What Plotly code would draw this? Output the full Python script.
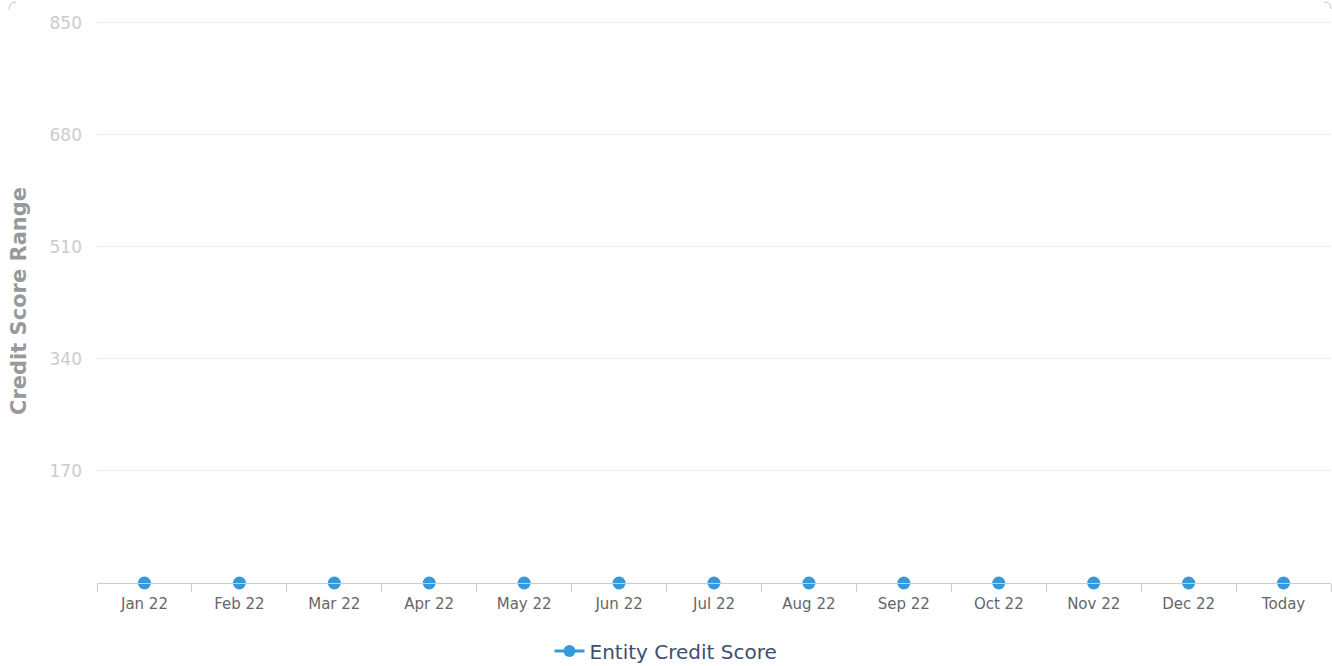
import plotly.graph_objects as go

categories = ["Jan 22", "Feb 22", "Mar 22", "Apr 22", "May 22", "Jun 22", "Jul 22",
              "Aug 22", "Sep 22", "Oct 22", "Nov 22", "Dec 22", "Today"]
scores = [0, 0, 0, 0, 0, 0, 0, 0, 0, 0, 0, 0, 0]
y_ticks = [170, 340, 510, 680, 850]
series_name = "Entity Credit Score"

W, H = 1332, 666
L, R, T, B = 97, 1, 19, 83
pw, ph = W - L - R, H - T - B
BLUE = "#3498db"

def px(x):
    return (x - L) / pw

def py(y):
    return (H - B - y) / ph

fig = go.Figure()
# points (the series line sits under the x-axis line, so only markers show)
fig.add_trace(go.Scatter(
    x=categories, y=scores, mode="markers", name=series_name,
    marker=dict(color=BLUE, size=13), cliponaxis=False,
    showlegend=False, legendgroup="s",
))
# legend entry (line + marker symbol)
fig.add_trace(go.Scatter(
    x=[None], y=[None], mode="lines+markers", name=series_name,
    line=dict(color=BLUE, width=3), marker=dict(color=BLUE, size=12),
    showlegend=True, legendgroup="s",
))

# faint rounded corners of the chart container
fig.add_shape(type="path", xref="paper", yref="paper",
              path=f"M {px(9)},{py(10)} Q {px(9)},{py(2)} {px(16)},{py(2)}",
              line=dict(color="#c8c8c8", width=1))
fig.add_shape(type="path", xref="paper", yref="paper",
              path=f"M {px(1324)},{py(2)} Q {px(1331)},{py(2)} {px(1331)},{py(9)}",
              line=dict(color="#c8c8c8", width=1))

fig.update_layout(
    width=W, height=H,
    margin=dict(l=L, r=R, t=T, b=B, autoexpand=False),
    paper_bgcolor="white", plot_bgcolor="white",
    font=dict(family="DejaVu Sans", color="#666666"),
    showlegend=True,
    legend=dict(orientation="h", x=0.5, xanchor="center", xref="container",
                y=(H - 651) / H, yanchor="middle", yref="container",
                font=dict(size=20, color="#3d4f6e"), itemwidth=30),
    xaxis=dict(
        type="category", tickson="boundaries", ticks="outside", ticklen=8,
        tickcolor="#cccccc", showline=True, linecolor="#cccccc", linewidth=1,
        showgrid=False, tickfont=dict(size=15, color="#666666"),
        ticklabelstandoff=7, tickangle=0,
        range=[-0.5, len(categories) - 0.5],
    ),
    yaxis=dict(
        range=[0, 856], tickvals=y_ticks, showgrid=True, gridcolor="#eeeeee",
        zeroline=False, showline=False, ticks="",
        tickfont=dict(size=17, color="#cccccc"), ticklabelstandoff=14,
        title=dict(text="<b>Credit Score Range</b>", font=dict(size=21, color="#999999"),
                   standoff=17),
    ),
)

fig.write_html("out.html", config={"displayModeBar": False},
               post_script="document.body.style.margin='0';")
